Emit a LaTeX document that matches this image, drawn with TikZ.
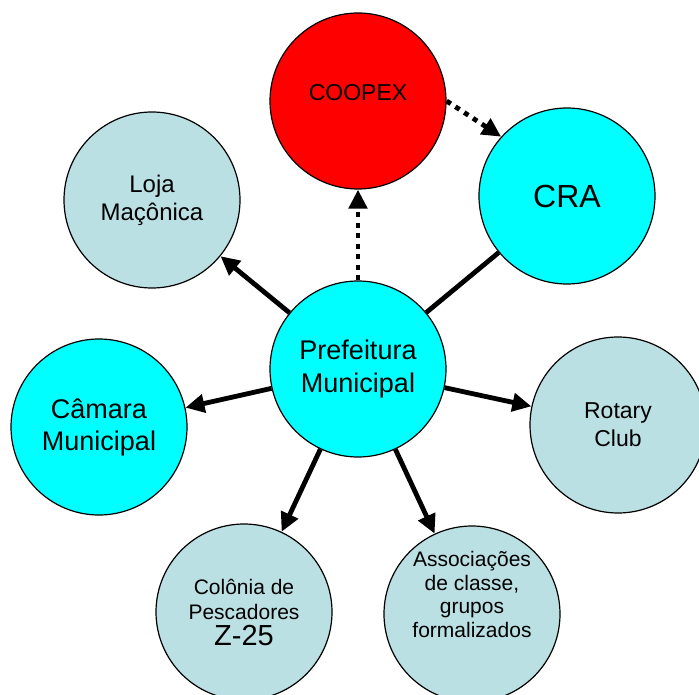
\documentclass[tikz,border=0pt]{standalone}
\usepackage{fontspec}
\setmainfont{Liberation Sans}
\usetikzlibrary{arrows.meta}
\definecolor{paleblue}{RGB}{187,224,227}
\definecolor{aqua}{RGB}{0,255,255}
\definecolor{coopred}{RGB}{255,0,0}

\begin{document}
\begin{tikzpicture}[x=1pt,y=-1pt,line width=4.8pt,-{Triangle[length=19pt,width=18pt]},
  circ/.style={circle,draw,line width=1.2pt,minimum size=176pt,inner sep=0pt,align=center},
  dotline/.style={dash pattern=on 5pt off 5.5pt}]
\useasboundingbox (0,0) rectangle (699,695);
\draw (358,101) node[circ,fill=coopred,font=\fontsize{23}{26}\selectfont](coopex) {COOPEX\\[-8pt]};
\draw (567,196) node[circ,fill=aqua,font=\fontsize{32}{36}\selectfont](cra) {CRA};
\draw (152,200) node[circ,fill=paleblue,font=\fontsize{24}{28}\selectfont](loja) {Loja\\Maçônica};
\draw (358,369) node[circ,fill=aqua,font=\fontsize{27}{33}\selectfont](pref) {Prefeitura\\Municipal};
\draw (99,427) node[circ,fill=aqua,font=\fontsize{27}{32}\selectfont](camara) {Câmara\\Municipal};
\draw (618,425) node[circ,fill=paleblue,font=\fontsize{23}{28}\selectfont](rotary) {Rotary\\Club};
\draw (244,612) node[circ,fill=paleblue,font=\fontsize{21}{25}\selectfont](colonia) {Colônia de\\Pescadores\\[1pt]\fontsize{29}{29}\selectfont Z-25};
\draw (472,614) node[circ,fill=paleblue,font=\fontsize{21}{23.5}\selectfont](assoc) {Associações\\de classe,\\grupos\\formalizados\\[16pt]};
\draw (pref) -- (loja);
\draw (pref) -- (camara);
\draw (pref) -- (rotary);
\draw (pref) -- (colonia);
\draw (pref) -- (assoc);
\draw[-] (pref) -- (cra);
\draw[dotline] (pref) -- (coopex);
\draw[dotline] (coopex.east) -- (cra.138);
\end{tikzpicture}
\end{document}
